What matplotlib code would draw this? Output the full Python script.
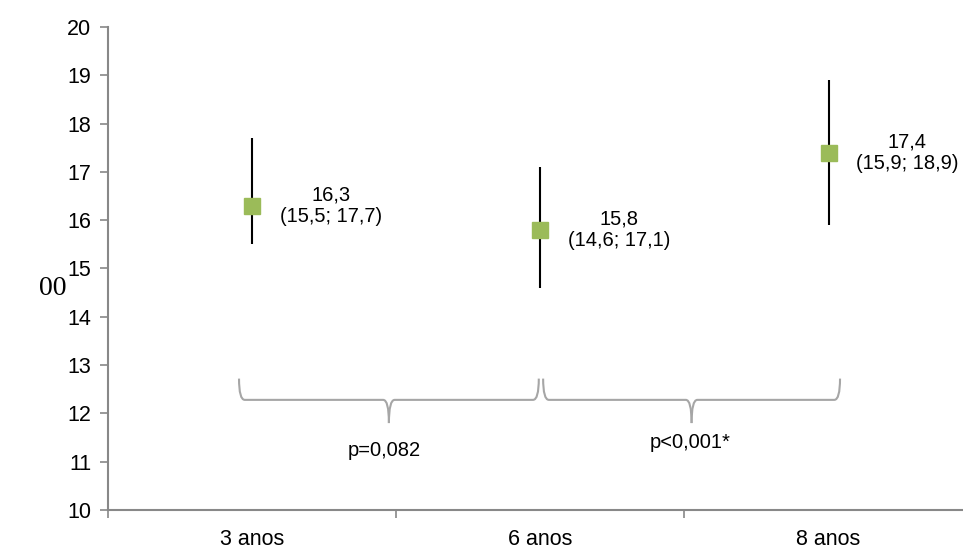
import matplotlib.pyplot as plt
from matplotlib.path import Path
from matplotlib.patches import PathPatch
import numpy as np

# data
groups = ['3 anos', '6 anos', '8 anos']
means = [16.3, 15.8, 17.4]
lower = [15.5, 14.6, 15.9]
upper = [17.7, 17.1, 18.9]
mean_labels = ['16,3', '15,8', '17,4']
ci_labels = ['(15,5; 17,7)', '(14,6; 17,1)', '(15,9; 18,9)']
p_labels = ['p=0,082', 'p<0,001*']

plt.rcParams['font.family'] = ['Liberation Sans', 'DejaVu Sans']

fig = plt.figure(figsize=(9.63, 5.49), dpi=100)
# axes runs a little past the right edge, like the original
ax = fig.add_axes([0.112, 0.071, 0.898, 0.880])

x = np.arange(len(groups))
m = np.array(means)
yerr = [m - np.array(lower), np.array(upper) - m]
ax.errorbar(x, m, yerr=yerr, fmt='none', ecolor='black', elinewidth=1.5, capsize=0)
ax.plot(x, m, 's', color='#9BBB59', markersize=12, zorder=3)

for i in range(len(groups)):
    ax.text(x[i] + 0.273, m[i], mean_labels[i] + '\n' + ci_labels[i],
            ha='center', va='center', multialignment='center', fontsize=14.5,
            linespacing=1.15)

# curly braces between groups
def brace(ax, x0, x1, ytop, ymid, ytip):
    xc = (x0 + x1) / 2
    d = 0.02
    left = Path([(x0, ytop), (x0, ymid), (x0 + d, ymid), (xc - d, ymid), (xc, ymid), (xc, ytip)],
                [Path.MOVETO, Path.CURVE3, Path.CURVE3, Path.LINETO, Path.CURVE3, Path.CURVE3])
    right = Path([(x1, ytop), (x1, ymid), (x1 - d, ymid), (xc + d, ymid), (xc, ymid), (xc, ytip)],
                 [Path.MOVETO, Path.CURVE3, Path.CURVE3, Path.LINETO, Path.CURVE3, Path.CURVE3])
    for p in (left, right):
        ax.add_patch(PathPatch(p, fill=False, edgecolor='#a6a6a6', lw=1.5))

brace(ax, -0.045, 0.995, 12.72, 12.28, 11.8)
brace(ax, 1.01, 2.04, 12.72, 12.28, 11.8)
ax.text(0.46, 11.24, p_labels[0], ha='center', va='center', fontsize=14.5)
ax.text(1.52, 11.39, p_labels[1], ha='center', va='center', fontsize=14.5)

ax.set_xlim(-0.5, 2.5)
ax.set_ylim(10, 20)
ax.set_yticks(np.arange(10, 21, 1))
ax.set_xticks(x)
ax.set_xticklabels(groups)
ax.set_xticks([-0.5, 0.5, 1.5, 2.5], minor=True)
ax.tick_params(axis='x', which='major', length=0, labelsize=15.5, pad=14)
ax.tick_params(axis='x', which='minor', length=6, color='#888888', width=1.2)
ax.tick_params(axis='y', length=6, color='#888888', width=1.2, labelsize=15.5, pad=6)
for s in ['top', 'right']:
    ax.spines[s].set_visible(False)
for s in ['left', 'bottom']:
    ax.spines[s].set_color('#888888')
    ax.spines[s].set_linewidth(1.5)

fig.text(0.055, 0.475, '00', fontsize=20, family='Liberation Serif', ha='center', va='center')

fig.savefig('out.png', dpi=100)
